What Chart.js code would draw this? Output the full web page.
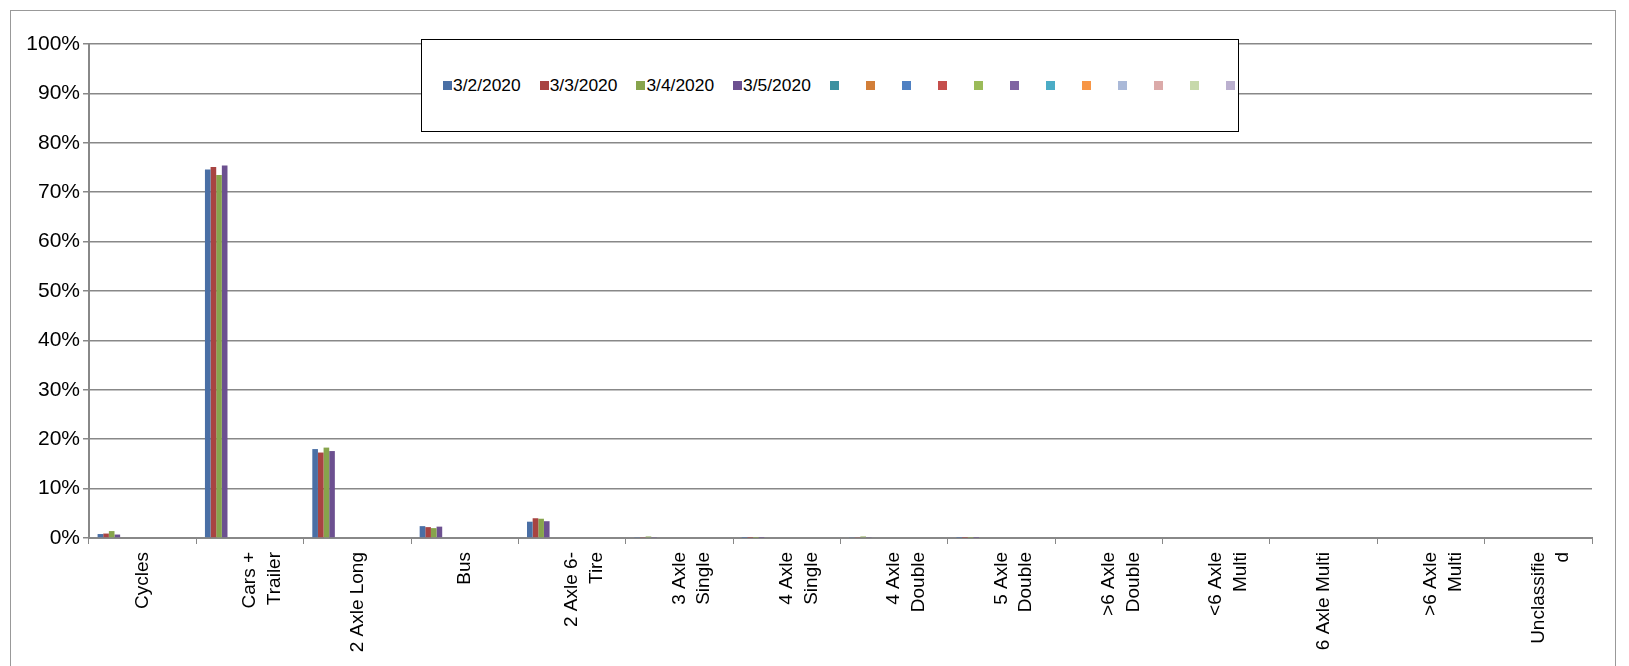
<!DOCTYPE html>
<html>
<head>
<meta charset="utf-8">
<script src="https://cdn.jsdelivr.net/npm/chart.js@4.4.1/dist/chart.umd.min.js"></script>
<style>
  html, body { margin: 0; padding: 0; background: #fff; overflow: hidden; }
  #wrap { position: relative; width: 1629px; height: 666px; overflow: hidden; }
  canvas { display: block; }
  #legend { position: absolute; left: 421px; top: 39px; width: 818px; height: 93px;
    border: 1px solid #000; background: #fff; box-sizing: border-box;
    font-family: "Liberation Sans", Arial, sans-serif; font-size: 17.4px; color: #000;
    display: flex; align-items: center; padding-left: 21px; }
  .item { display: flex; align-items: center; margin-right: 19px; }
  .item.empty { margin-right: 26px; }
  .sw { width: 9px; height: 9px; margin-right: 1px; }
</style>
</head>
<body>
<div id="wrap">
  <canvas id="chart" width="1629" height="666"></canvas>
  <div id="legend"></div>
</div>
<script>
const categories = [
  'Cycles', ['Cars +', 'Trailer'], '2 Axle Long', 'Bus', ['2 Axle 6-', 'Tire'],
  ['3 Axle', 'Single'], ['4 Axle', 'Single'], ['4 Axle', 'Double'], ['5 Axle', 'Double'],
  ['>6 Axle', 'Double'], ['<6 Axle', 'Multi'], '6 Axle Multi', ['>6 Axle', 'Multi'],
  ['Unclassifie', 'd']
];
const seriesNames = ['3/2/2020', '3/3/2020', '3/4/2020', '3/5/2020',
  '', '', '', '', '', '', '', '', '', '', '', ''];
const seriesColors = ['#4a6fa5', '#a84442', '#87a44c', '#6c5090',
  '#3d91a0', '#d27e38', '#4f80c2', '#c54e4c', '#9bbb59', '#8064a2',
  '#4bacc6', '#f79646', '#aab9d8', '#dbaaa9', '#c7d9ab', '#bbb0cf'];
const day1 = [0.8, 74.6, 18.0, 2.4, 3.3, 0.1, 0.05, 0.2, 0.05, 0.0, 0.0, 0.0, 0.0, 0.0];
const day2 = [0.9, 75.1, 17.3, 2.2, 4.0, 0.1, 0.05, 0.2, 0.05, 0.0, 0.0, 0.0, 0.0, 0.0];
const day3 = [1.4, 73.5, 18.3, 2.0, 3.9, 0.3, 0.05, 0.3, 0.05, 0.0, 0.0, 0.0, 0.0, 0.0];
const day4 = [0.7, 75.4, 17.6, 2.3, 3.4, 0.1, 0.05, 0.1, 0.05, 0.0, 0.0, 0.0, 0.0, 0.0];
const seriesValues = [day1, day2, day3, day4];

const datasets = seriesNames.map((name, i) => ({
  label: name,
  data: seriesValues[i] || categories.map(() => null),
  backgroundColor: seriesColors[i],
  borderWidth: 0,
  barPercentage: 1,
  categoryPercentage: 0.84
}));

// legend box drawn as html on top of the plot
const legendEl = document.getElementById('legend');
seriesNames.forEach((name, i) => {
  const item = document.createElement('div');
  item.className = name ? 'item' : 'item empty';
  item.innerHTML = '<span class="sw" style="background:' + seriesColors[i] + '"></span>' + name;
  legendEl.appendChild(item);
});

// outer frame of the chart object
const framePlugin = {
  id: 'frame',
  afterDraw(chart) {
    const ctx = chart.ctx;
    ctx.save();
    ctx.strokeStyle = '#999';
    ctx.lineWidth = 1;
    ctx.strokeRect(10.5, 10.5, 1605, 700);
    ctx.restore();
  }
};

new Chart(document.getElementById('chart'), {
  type: 'bar',
  data: { labels: categories, datasets: datasets },
  options: {
    responsive: false,
    animation: false,
    layout: { padding: { left: 0, right: 37, top: 44, bottom: 0 } },
    plugins: { legend: { display: false }, tooltip: { enabled: false } },
    scales: {
      x: {
        afterFit: s => { s.height = 128; },
        grid: { display: true, drawOnChartArea: false, color: '#888', tickLength: 6 },
        border: { color: '#888', width: 2 },
        ticks: { color: '#000', minRotation: 90, maxRotation: 90, autoSkip: false, padding: 8,
          font: { family: 'Liberation Sans', size: 19, lineHeight: 1.3 } }
      },
      y: {
        min: 0, max: 100,
        afterFit: s => { s.width = 89; },
        ticks: { stepSize: 10, color: '#000', callback: v => v + '%',
          font: { family: 'Liberation Sans', size: 21 } },
        grid: { color: '#888', lineWidth: 1.5, tickLength: 6 },
        border: { color: '#888', width: 2 }
      }
    }
  },
  plugins: [framePlugin]
});
</script>
</body>
</html>
